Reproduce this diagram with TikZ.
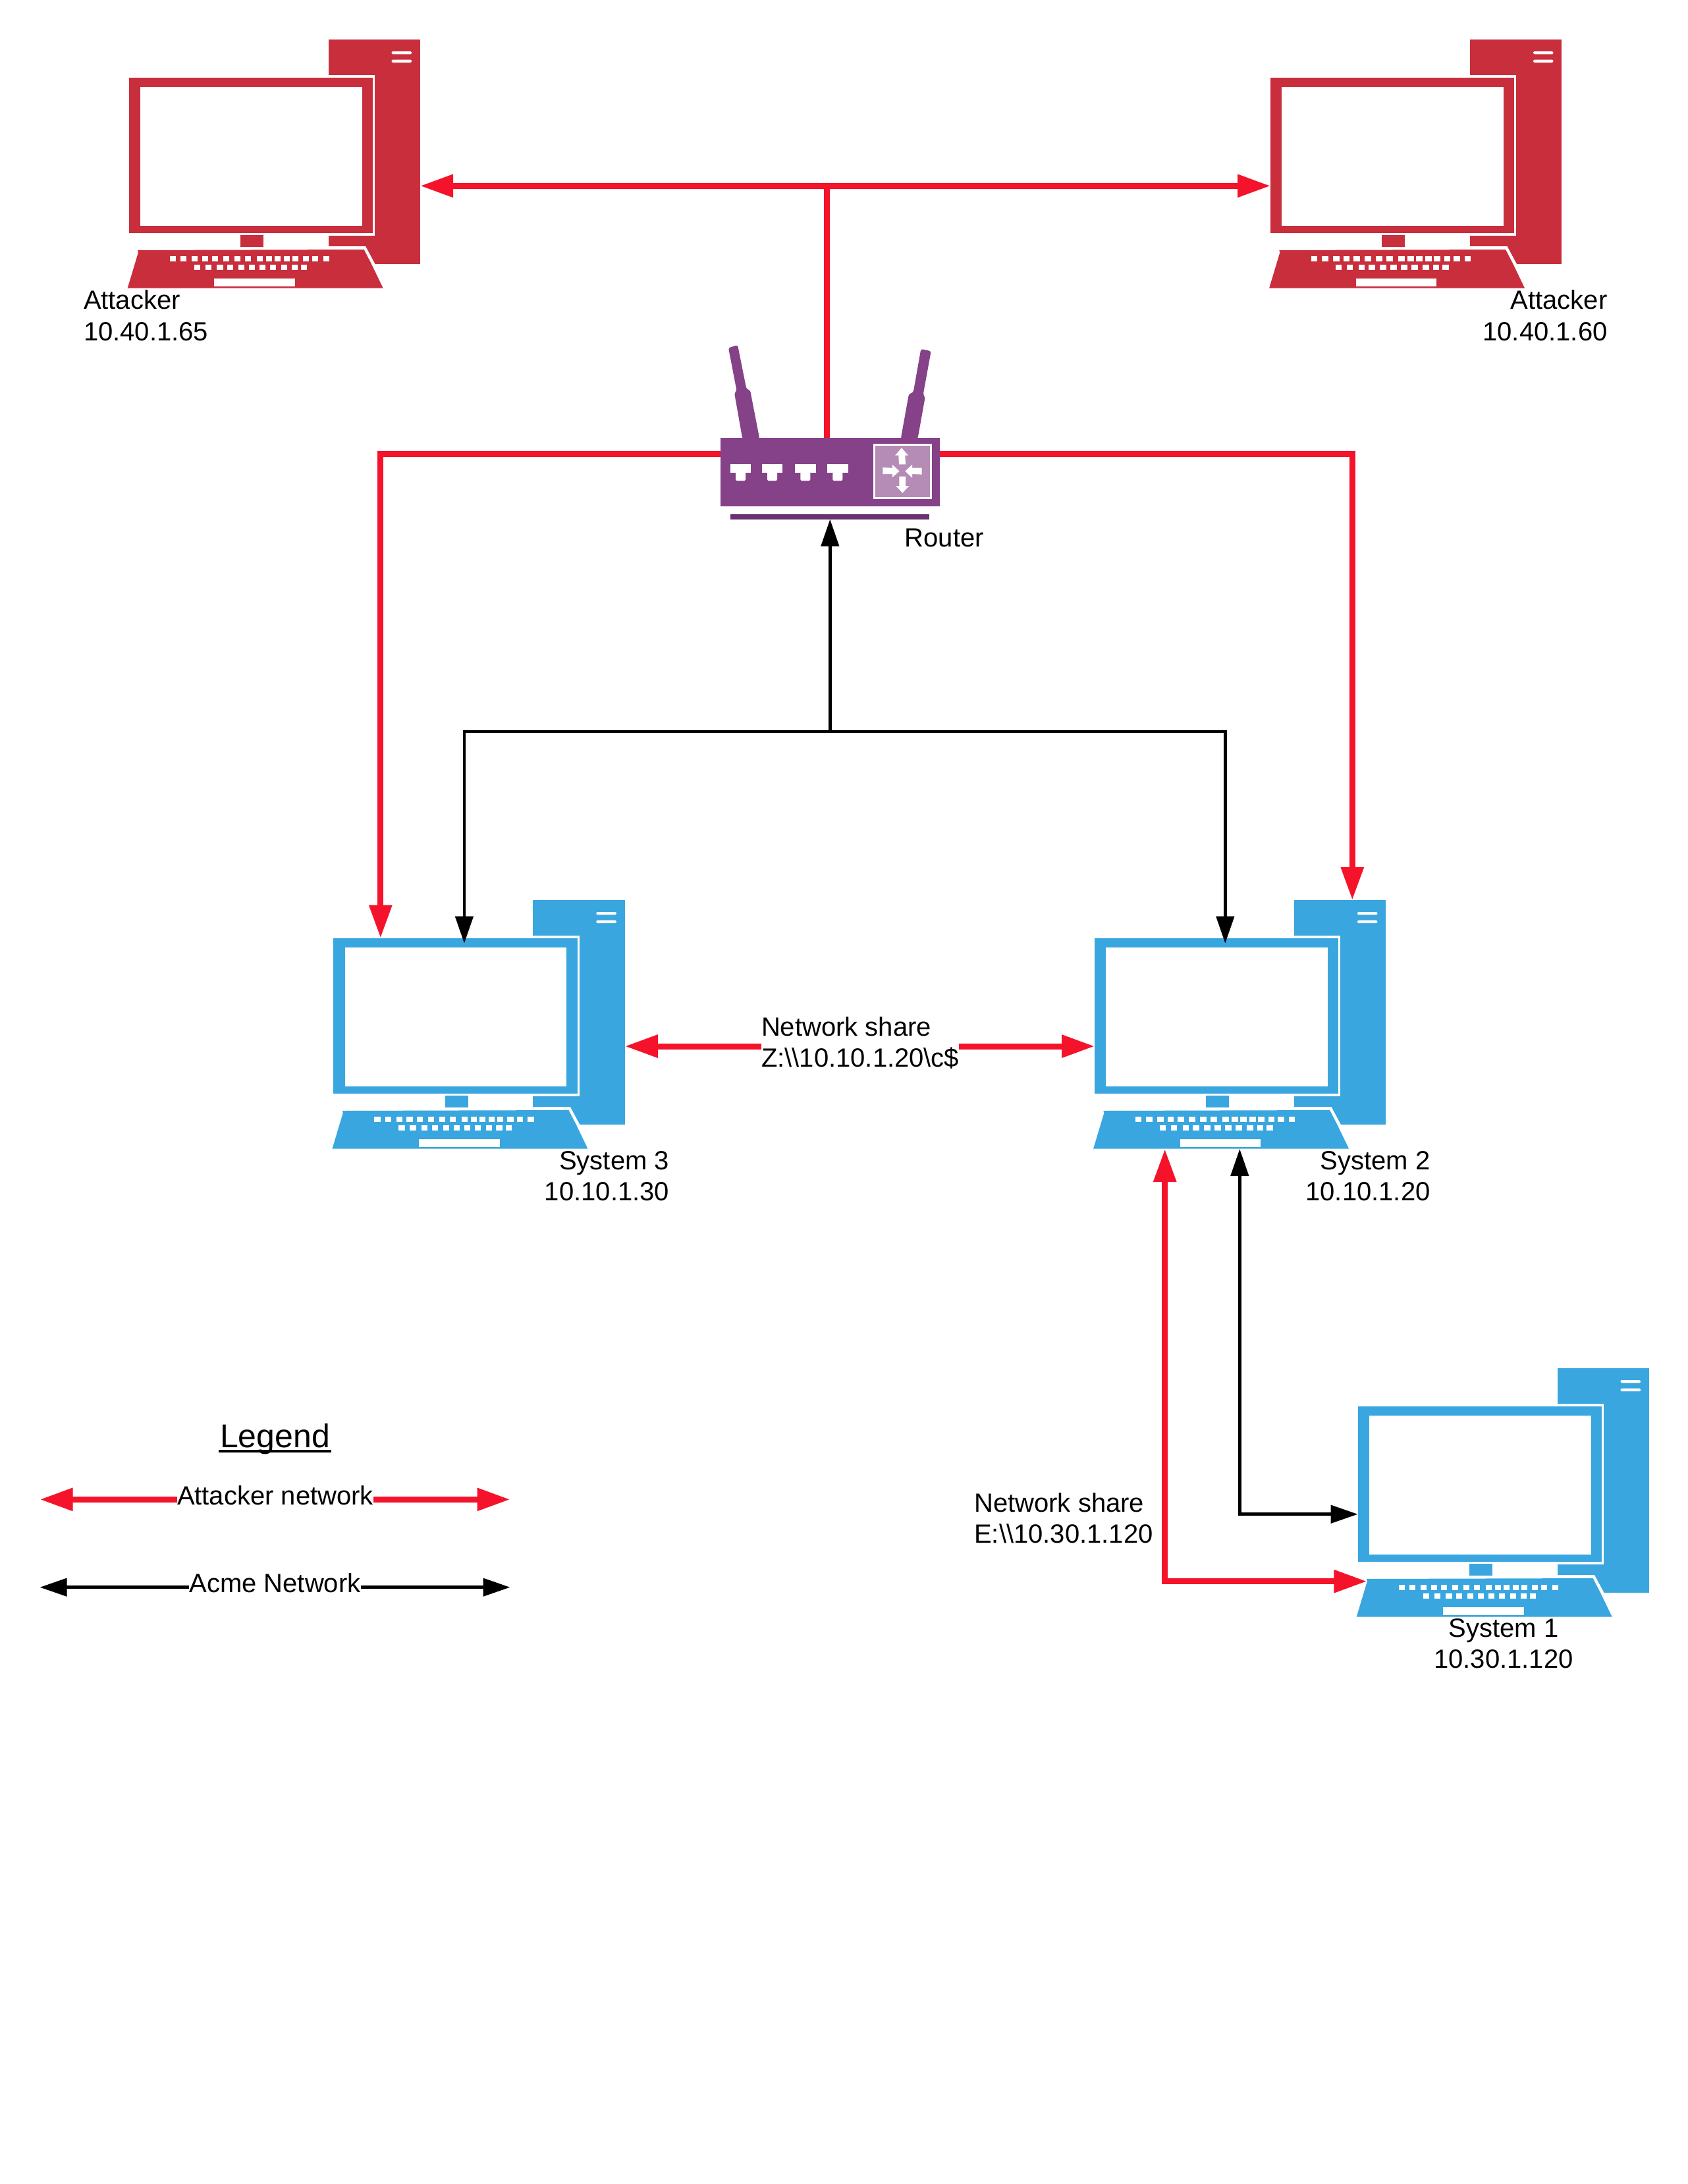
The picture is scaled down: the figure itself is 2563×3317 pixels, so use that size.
\documentclass[tikz,border=0pt]{standalone}
\usepackage{fontspec}
\setmainfont{Liberation Sans}
\usetikzlibrary{arrows.meta}
\definecolor{attred}{HTML}{C92E3C}
\definecolor{sysblue}{HTML}{3AA6DF}
\definecolor{rtpurple}{HTML}{854288}
\definecolor{rtdark}{HTML}{6A336F}
\definecolor{rtlight}{HTML}{B48CB5}
\definecolor{linkred}{HTML}{F5132B}
\tikzset{
  lab/.style={inner sep=0pt,outer sep=0pt,font=\fontsize{40}{47.5}\selectfont},
  redlink/.style={draw=linkred,line width=9pt},
  redboth/.style={redlink,{Triangle[length=50pt,width=33pt,fill=linkred]}-{Triangle[length=50pt,width=33pt,fill=linkred]}},
  redend/.style={redlink,-{Triangle[length=50pt,width=33pt,fill=linkred]}},
  blklink/.style={draw=black,line width=4.5pt},
  blkboth/.style={blklink,{Triangle[length=41pt,width=27pt]}-{Triangle[length=41pt,width=27pt]}},
  blkend/.style={blklink,-{Triangle[length=41pt,width=27pt]}},
  part/.style={inner sep=0pt,outer sep=0pt,draw=none},
}
\newcommand{\pccomputer}[4]{%
\begin{scope}[shift={(160+#3,40+#4)},x=0.33333pt,y=-0.33333pt]
  \node[part,fill=#2,minimum width=139.33pt,minimum height=340.67pt,name=#1tower] at (1225,571) {};
  \fill[white,rounded corners=1.5pt] (1304,114) rectangle (1395,127) (1304,152) rectangle (1395,165);
  \fill[white] (990,222) rectangle (1227,953);
  \node[part,fill=#2,minimum width=370.33pt,minimum height=236pt,name=#1monitor] at (662.5,587) {};
  \fill[white] (159,276) rectangle (1169,910);
  \fill[#2] (1016,953) rectangle (1227,1002);
  \fill[white] (1016,1002) -- (1185,1002) -- (1228,1082) -- (1228,1100) -- (1016,1100) -- cycle;
  \fill[#2] (615,952) rectangle (720,1005);
  \fill[#2] (147,1020) -- (150,1030) -- (101,1193) -- (1265,1193) -- (1213,1085) -- (1178,1017) -- cycle;
  \foreach \k in {293,342,393,440,486,537,588,636,690,732,771,813,852,899,942,992}
    \fill[white] (\k,1046) rectangle ++(28,24);
  \foreach \k in {404,455,508,555,606,654,702,750,801,848,891}
    \fill[white] (\k,1086) rectangle ++(28,24);
  \fill[white] (496,1149) rectangle (864,1184);
\end{scope}}
\begin{document}
\begin{tikzpicture}[x=1pt,y=-1pt]
\useasboundingbox[fill=white] (0,0) rectangle (2563,3317);

\pccomputer{atta}{attred}{0}{0}
\pccomputer{attb}{attred}{1733.4}{0}
\pccomputer{sysc}{sysblue}{310.8}{1307}
\pccomputer{sysb}{sysblue}{1466.4}{1307}
\pccomputer{sysa}{sysblue}{1866}{2018}

% router
\begin{scope}[shift={(1040,500)},x=0.33333pt,y=-0.33333pt]
  \fill[rtpurple,rounded corners=3pt] (198,85) -- (240,72) -- (280,272) -- (297,278) -- (340,500) -- (262,500) -- (225,290) -- (236,282) -- cycle;
  \fill[rtpurple,rounded corners=3pt] (1075,90) -- (1121,100) -- (1085,298) -- (1094,310) -- (1060,500) -- (983,500) -- (1020,295) -- (1040,288) -- cycle;
  \node[part,fill=rtpurple,minimum width=333pt,minimum height=104pt,name=router] at (660.5,652) {};
  \fill[rtdark] (208,843) rectangle (1112,866);
  \coordinate (routerbase) at (660,866);
  \foreach \k in {207,351,502,649} {
    \fill[white] (\k,616) rectangle ++(94,38);
    \fill[white,rounded corners=2pt] (\k+24,650) rectangle ++(45,40);
  }
  \fill[white] (858,521) rectangle (1125,774);
  \fill[rtlight] (867,530) rectangle (1116,765);
  \fill[white] (987,541) -- (1017,575) -- (1003,575) -- (1005,616) -- (975,616) -- (973,575) -- (957,575) -- cycle;
  \fill[white] (977,647) -- (945,675) -- (945,660) -- (901,660) -- (901,630) -- (945,632) -- (945,617) -- cycle;
  \fill[white] (1003,647) -- (1035,617) -- (1035,632) -- (1079,632) -- (1079,662) -- (1035,660) -- (1035,677) -- cycle;
  \fill[white] (991,746) -- (961,714) -- (976,714) -- (976,671) -- (1005,671) -- (1005,714) -- (1021,714) -- cycle;
\end{scope}

% labels
\node[lab,anchor=north west,align=left] (latta) at (127,440.8) {Attacker\\10.40.1.65};
\node[lab,anchor=north east,align=right] (lattb) at (2440.5,440.8) {Attacker\\10.40.1.60};
\node[lab,anchor=north west] (lrouter) at (1373.7,802.5) {Router};
\node[lab,anchor=north east,align=right] (lsysc) at (1016,1748.3) {System 3\\10.10.1.30};
\node[lab,anchor=north east,align=right] (lsysb) at (2171.5,1748.3) {System 2\\10.10.1.20};
\node[lab,anchor=north,align=center] (lsysa) at (2283,2458.3) {System 1\\10.30.1.120};
\node[lab,anchor=north west,align=left] (zshare) at (1156,1544) {Network share\\Z:\textbackslash\textbackslash 10.10.1.20\textbackslash c\$};
\node[lab,anchor=north west,align=left] (eshare) at (1479.3,2267) {Network share\\E:\textbackslash\textbackslash 10.30.1.120};

% legend
\node[inner sep=0pt,outer sep=0pt,anchor=base,font=\fontsize{50}{58}\selectfont] (legend) at (417.5,2198.3) {Legend};
\draw[line width=4.5pt] ([shift={(-2,5.7)}]legend.base west) -- ([shift={(2,5.7)}]legend.base east);
\node[lab,anchor=base] (legatt) at (418,2285) {Attacker network};
\node[lab,anchor=base] (legacme) at (417.5,2418) {Acme Network};
\coordinate (lrl) at (60.5,2277.3);
\coordinate (lrr) at (774.5,2277.3);
\coordinate (lbl) at (60.5,2410.7);
\coordinate (lbr) at (774.5,2410.7);

% junctions
\coordinate (topbus) at (1255.3,282.3);
\coordinate (rlcorner) at (577.8,689);
\coordinate (rrcorner) at (2053.3,689);
\coordinate (sysbus) at (1260.3,1111);
\coordinate (blkl) at (704.9,1111);
\coordinate (blkr) at (1860.3,1111);
\coordinate (blktip) at (0,1432.7);
\coordinate (zy) at (1300,1589);
\coordinate (sysbbl) at (1768.7,1745);
\coordinate (sysbbk) at (1882.3,1745);
\coordinate (rcorner) at (1768.7,2401.7);
\coordinate (kcorner) at (1882.3,2299.7);
\coordinate (sysakbd) at (2075.4,2401.7);

% red links
\draw[redboth] (attatower.east |- topbus) -- (attbmonitor.west |- topbus);
\draw[redlink] (router.north -| topbus) -- (topbus);
\draw[redend] (router.west |- rlcorner) -- (rlcorner) -- (rlcorner |- syscmonitor.north);
\draw[redend] (router.east |- rrcorner) -- (rrcorner) -- (rrcorner |- sysbtower.north);
\draw[redend] (zshare.west |- zy) -- (sysctower.east |- zy);
\draw[redend] (zshare.east |- zy) -- (sysbmonitor.west |- zy);
\draw[redboth] (sysbbl) -- (rcorner) -- (sysakbd);

% black links
\draw[blkend] (sysbus) -- (routerbase -| sysbus);
\draw[blkend] (sysbus) -- (blkl) -- (blkl |- blktip);
\draw[blkend] (sysbus) -- (blkr) -- (blkr |- blktip);
\draw[blkboth] (sysbbk) -- (kcorner) -- (sysamonitor.west |- kcorner);

% legend links
\draw[redend] (legatt.west |- lrl) -- (lrl);
\draw[redend] (legatt.east |- lrr) -- (lrr);
\draw[blkend] (legacme.west |- lbl) -- (lbl);
\draw[blkend] (legacme.east |- lbr) -- (lbr);
\end{tikzpicture}
\end{document}
